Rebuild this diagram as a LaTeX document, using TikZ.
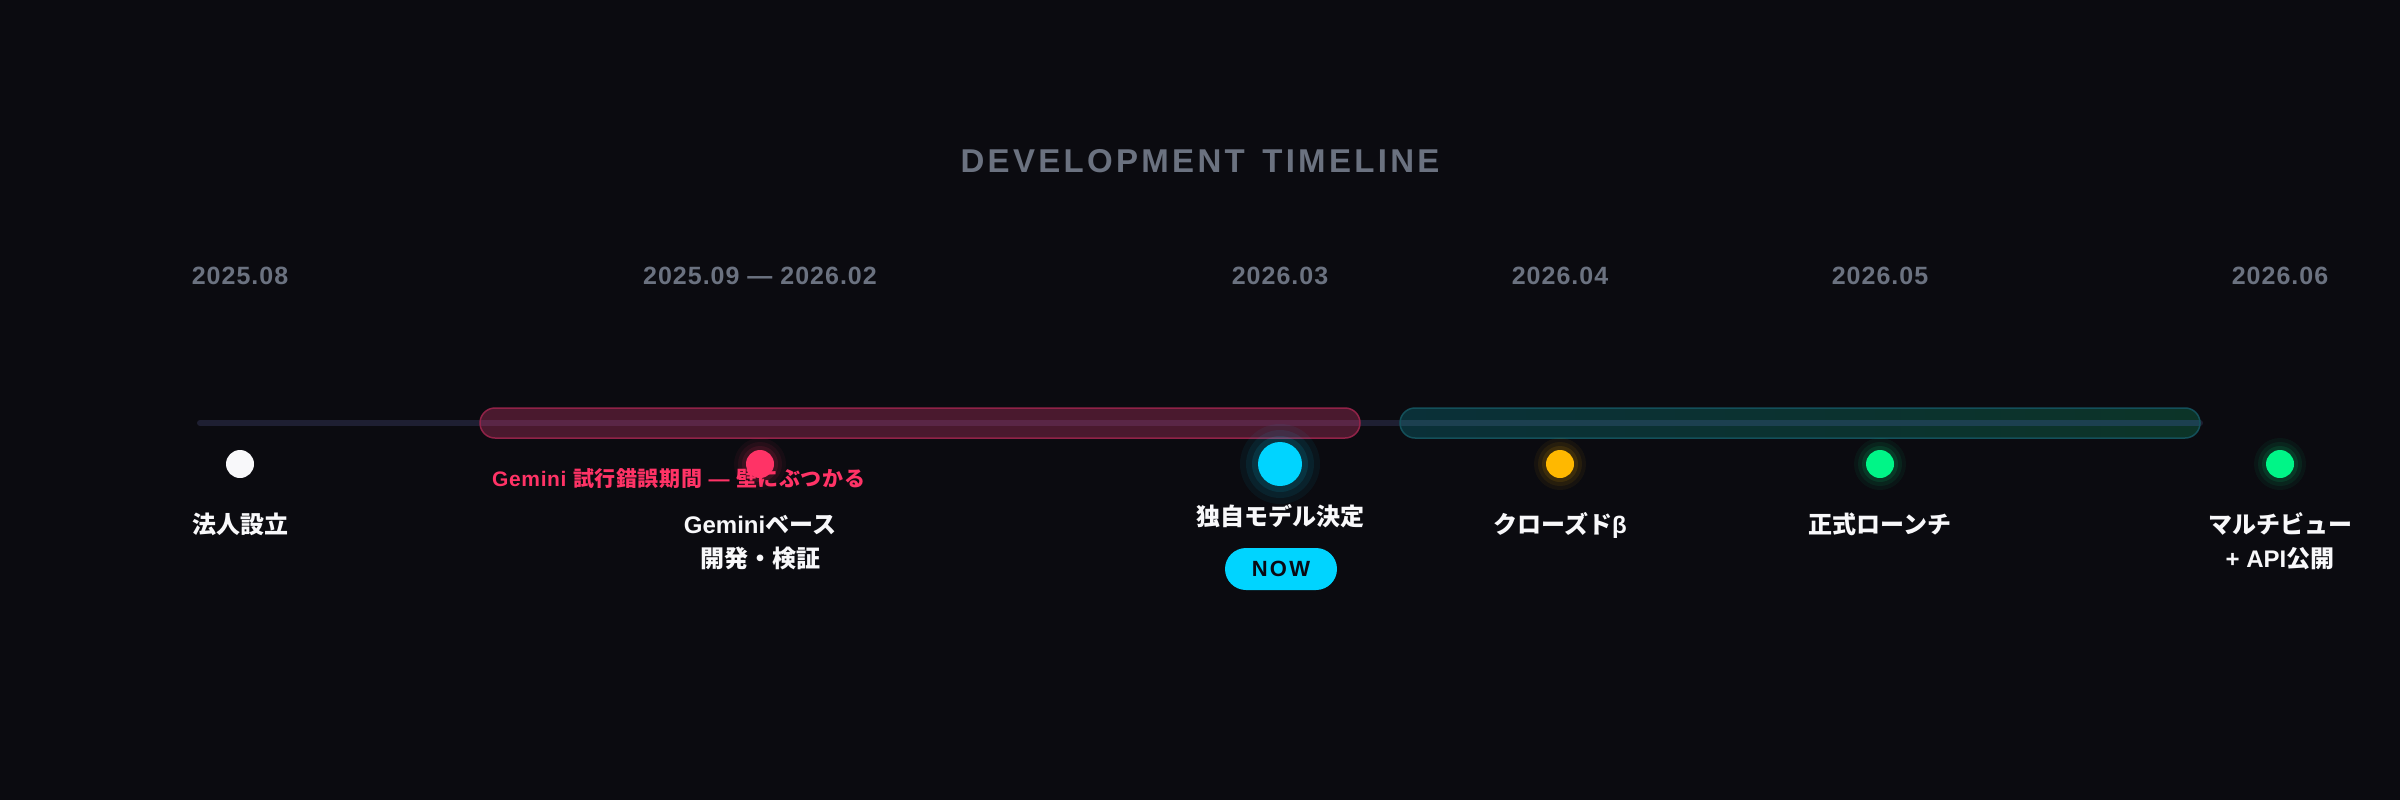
\documentclass[tikz,border=0pt]{standalone}
\usepackage{fontspec}
\setmainfont{Liberation Sans}
\newfontfamily\jpf{Noto Sans CJK JP}
\newcommand\jp[1]{{\jpf #1}}
\definecolor{bg}{RGB}{11,11,16}
\definecolor{muted}{RGB}{107,114,128}
\definecolor{trackc}{RGB}{30,31,50}
\definecolor{rosec}{RGB}{255,51,102}
\definecolor{cyanc}{RGB}{0,212,255}
\definecolor{amberc}{RGB}{255,184,0}
\definecolor{greenc}{RGB}{0,245,135}
\definecolor{whitec}{RGB}{248,248,250}
\definecolor{redfill}{RGB}{74,25,46}
\definecolor{redstripe}{RGB}{90,38,70}
\definecolor{redborder}{RGB}{145,35,72}
\definecolor{tealL}{RGB}{10,48,56}
\definecolor{tealR}{RGB}{12,52,40}
\definecolor{tealstripe}{RGB}{28,64,80}
\definecolor{tealborder}{RGB}{20,80,90}
\definecolor{nowtext}{RGB}{10,10,20}
\tikzset{
  datelbl/.style={text=muted, font=\bfseries\fontsize{25}{28}\selectfont\addfontfeatures{LetterSpace=4}, anchor=base, inner sep=0},
  mslbl/.style={text=whitec, font=\bfseries\fontsize{24}{34}\selectfont, anchor=base, align=center, inner sep=0},
  dotnode/.style={circle, fill=#1, inner sep=0, minimum size=28pt},
}
\newcommand\glow[4]{% x, color, base radius, step
  \foreach \k/\o in {3/0.05,2/0.07,1/0.10}
    \fill[#2, opacity=\o] (#1,464) circle ({#3+\k*#4});
}
\begin{document}
\begin{tikzpicture}[x=1pt,y=-1pt]
\fill[bg] (0,0) rectangle (2400,800);
\useasboundingbox (0,0) rectangle (2400,800);

% title
\node[text=muted, font=\bfseries\fontsize{33}{36}\selectfont\addfontfeatures{LetterSpace=10}, anchor=base, inner sep=0] (title) at (1200,172) {DEVELOPMENT\hspace{5pt} TIMELINE};

% dates
\node[datelbl] (t1) at (240,284) {2025.08};
\node[datelbl] (t2) at (760,284) {2025.09 — 2026.02};
\node[datelbl] (t3) at (1280,284) {2026.03};
\node[datelbl] (t4) at (1560,284) {2026.04};
\node[datelbl] (t5) at (1880,284) {2026.05};
\node[datelbl] (t6) at (2280,284) {2026.06};

% track
\coordinate (ts) at (200,423);
\coordinate (te) at (2200,423);
\draw[trackc, line width=6pt, line cap=round] (ts) -- (te);

% red bar
\fill[redfill, rounded corners=15pt] (480,408) rectangle (1360,438);
\draw[redstripe, line width=6pt] (481,423) -- (1359,423);
\draw[redborder, line width=1.5pt, rounded corners=15pt] (480,408) rectangle (1360,438);

% teal bar
\shade[left color=tealL, right color=tealR, rounded corners=15pt] (1400,408) rectangle (2200,438);
\draw[tealstripe, line width=6pt] (1401,423) -- (2199,423);
\draw[tealborder, line width=1.5pt, rounded corners=15pt] (1400,408) rectangle (2200,438);

% red range label
\node[text=rosec, font=\bfseries\fontsize{21}{24}\selectfont\addfontfeatures{LetterSpace=3}, anchor=base west, inner sep=0] (rl) at (492,486) {Gemini \jp{\addfontfeatures{LetterSpace=3}試行錯誤期間} — \jp{\addfontfeatures{LetterSpace=3}壁にぶつかる}};

% dots
\node[dotnode=whitec] (d1) at (240,464) {};
\glow{760}{rosec}{14}{4}
\node[dotnode=rosec] (d2) at (760,464) {};
\glow{1280}{cyanc}{22}{6}
\node[dotnode=cyanc, minimum size=44pt] (d3) at (1280,464) {};
\glow{1560}{amberc}{14}{4}
\node[dotnode=amberc] (d4) at (1560,464) {};
\glow{1880}{greenc}{14}{4}
\node[dotnode=greenc] (d5) at (1880,464) {};
\glow{2280}{greenc}{14}{4}
\node[dotnode=greenc] (d6) at (2280,464) {};

% milestone labels
\node[mslbl] (l1) at (240,533) {\jp{法人設立}};
\node[mslbl] (l2) at (760,567) {Gemini\jp{ベース}\\\jp{開発・検証}};
\node[mslbl] (l3) at (1280,525) {\jp{独自モデル決定}};
\node[mslbl] (l4) at (1560,533) {\jp{クローズド}β};
\node[mslbl] (l5) at (1880,533) {\jp{正式ローンチ}};
\node[mslbl] (l6) at (2280,567) {\jp{マルチビュー}\\+ API\jp{公開}};

% NOW pill
\node[fill=cyanc, rounded corners=21pt, minimum width=112pt, minimum height=42pt, inner sep=0, text=nowtext, font=\bfseries\fontsize{22}{22}\selectfont\addfontfeatures{LetterSpace=10}] (now) at (1281,569) {NOW};
\end{tikzpicture}
\end{document}
